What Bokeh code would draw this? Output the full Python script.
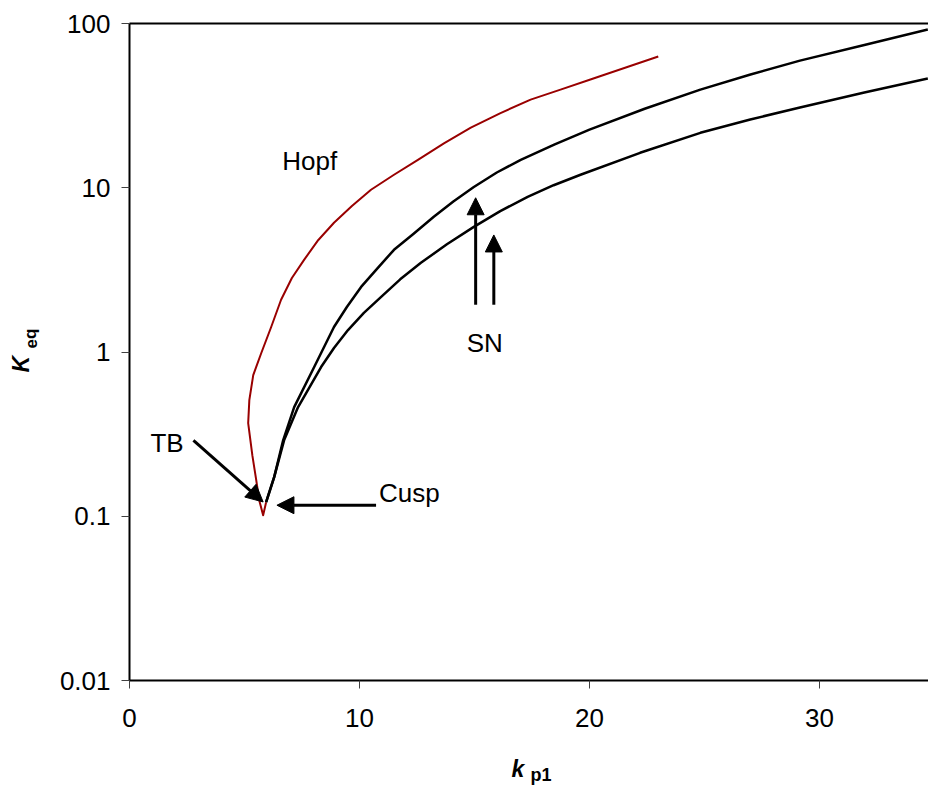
from bokeh.plotting import figure
from bokeh.models import (Range1d, FixedTicker, CustomJSTickFormatter, Label, Arrow, NormalHead,
                          LinearAxis)
from bokeh.embed import file_html
from bokeh.resources import INLINE

# ---- data ----
hopf_x = [5.94, 5.81, 5.64, 5.51, 5.34, 5.16, 5.21, 5.38, 5.73, 6.16, 6.59, 7.06, 7.59, 8.21, 8.89,
          9.67, 10.50, 11.50, 12.54, 13.67, 14.84, 16.13, 17.44, 18.74, 20.04, 22.99]
hopf_y = [0.1217, 0.1014, 0.1253, 0.166, 0.2355, 0.369, 0.509, 0.724, 0.986, 1.42, 2.08, 2.82, 3.64, 4.81, 6.12,
          7.74, 9.72, 12.0, 14.8, 18.65, 23.2, 28.5, 34.4, 39.6, 45.6, 63.0]

sn1_x = [5.94, 6.29, 6.68, 7.16, 8.03, 8.89, 9.45, 10.07, 10.76, 11.50, 12.34, 13.23, 14.08, 14.97, 15.97,
         17.01, 18.49, 20.0, 22.40, 24.82, 27.0, 29.15, 31.95, 34.71]
sn1_y = [0.1217, 0.173, 0.290, 0.462, 0.810, 1.42, 1.88, 2.49, 3.21, 4.19, 5.23, 6.66, 8.25, 10.1, 12.38,
         14.8, 18.39, 22.6, 30.25, 39.6, 48.9, 59.4, 74.0, 91.9]

sn2_x = [5.94, 6.29, 6.72, 7.33, 8.33, 8.89, 9.50, 10.19, 10.93, 11.77, 12.67, 13.80, 14.97, 16.12, 17.31,
         18.44, 19.61, 22.20, 24.82, 26.99, 29.15, 31.95, 34.71]
sn2_y = [0.1217, 0.173, 0.290, 0.462, 0.810, 1.058, 1.36, 1.73, 2.16, 2.77, 3.49, 4.53, 5.78, 7.21, 8.81,
         10.36, 12.0, 16.32, 21.6, 26.04, 30.8, 38.0, 46.2]

y_ticks = [0.01, 0.1, 1, 10, 100]
x_ticks = [0, 10, 20, 30]

# text annotations: (text, x of left edge, y of text middle)
texts = [("Hopf", 6.64, 14.45), ("TB", 0.91, 0.279), ("Cusp", 10.85, 0.1385), ("SN", 14.66, 1.142)]
arrows = [(2.78, 0.290, 5.81, 0.1222),
          (10.72, 0.1167, 6.41, 0.1167),
          (15.05, 1.94, 15.05, 8.69),
          (15.84, 1.94, 15.84, 5.16)]

FONT = "Liberation Sans"

# ---- layout geometry (pixels) ----
W, H = 928, 790
LEFT, TOP, BOTTOM = 129, 23, 680          # where x=0, y=100, y=0.01 sit on the canvas
PX_X = 23.0                               # pixels per x unit
PX_DEC = (BOTTOM - TOP) / 4.0             # pixels per decade
X_MAX = (W - LEFT) / PX_X

x_start = -LEFT / PX_X
y_start = 10 ** (-2 - (H - BOTTOM) / PX_DEC)
y_end = 10 ** (2 + TOP / PX_DEC)

p = figure(width=W, height=H, y_axis_type="log",
           x_range=Range1d(x_start, X_MAX), y_range=Range1d(y_start, y_end),
           output_backend="svg", toolbar_location=None,
           min_border_left=0, min_border_right=0, min_border_top=0, min_border_bottom=0)
p.outline_line_color = None
p.xgrid.visible = False
p.ygrid.visible = False
p.background_fill_color = "white"

xa, ya = p.xaxis[0], p.yaxis[0]
xa.fixed_location = 0.01
ya.fixed_location = 0
xa.bounds = (0, X_MAX)
ya.bounds = (0.01, 100)

for ax in (xa, ya):
    ax.axis_line_color = "black"
    ax.axis_line_width = 2
    ax.major_tick_line_color = "#404040"
    ax.major_tick_line_width = 1
    ax.major_tick_out = 8
    ax.major_tick_in = 0
    ax.minor_tick_line_color = None
    ax.major_label_text_font = FONT
    ax.major_label_text_font_size = "26px"
    ax.major_label_text_color = "black"

xa.ticker = FixedTicker(ticks=x_ticks, minor_ticks=[])
ya.ticker = FixedTicker(ticks=y_ticks, minor_ticks=[])
ya.formatter = CustomJSTickFormatter(code="return tick < 1 ? tick.toPrecision(1) : tick.toFixed(0);")
xa.major_label_standoff = 20
ya.major_label_standoff = 11

# top border of the plot box
top = LinearAxis(fixed_location=100, bounds=(0, X_MAX), ticker=FixedTicker(ticks=[], minor_ticks=[]),
                 axis_line_color="black", axis_line_width=2,
                 major_tick_line_color=None, minor_tick_line_color=None)
p.add_layout(top, "above")

p.line(hopf_x, hopf_y, line_color="#990000", line_width=2, line_join="round")
p.line(sn1_x, sn1_y, line_color="black", line_width=2.5, line_join="round")
p.line(sn2_x, sn2_y, line_color="black", line_width=2.5, line_join="round")

for (t, x, y) in texts:
    p.add_layout(Label(x=x, y=y, text=t, text_font=FONT, text_font_size="26px",
                       text_color="black", text_align="left", text_baseline="middle"))

for (xs, ys, xe, ye) in arrows:
    p.add_layout(Arrow(end=NormalHead(size=17, fill_color="black", line_color="black", line_width=1),
                       x_start=xs, y_start=ys, x_end=xe, y_end=ye,
                       line_color="black", line_width=3))

# axis titles with subscripts (screen units from the canvas bottom-left, text middles)
p.add_layout(Label(x=511, y=H - 768, x_units="screen", y_units="screen", text="k", text_font=FONT,
                   text_font_size="23px", text_font_style="bold italic", text_color="black",
                   text_baseline="middle"))
p.add_layout(Label(x=530, y=H - 774, x_units="screen", y_units="screen", text="p1", text_font=FONT,
                   text_font_size="18px", text_font_style="bold", text_color="black",
                   text_baseline="middle"))
p.add_layout(Label(x=20.5, y=H - 372, x_units="screen", y_units="screen", text="K", text_font=FONT,
                   text_font_size="23px", text_font_style="bold italic", text_color="black",
                   text_baseline="middle", angle=1.5708))
p.add_layout(Label(x=30.5, y=H - 348, x_units="screen", y_units="screen", text="eq", text_font=FONT,
                   text_font_size="17px", text_font_style="bold", text_color="black",
                   text_baseline="middle", angle=1.5708))

open("out.html", "w").write(file_html(p, INLINE))
